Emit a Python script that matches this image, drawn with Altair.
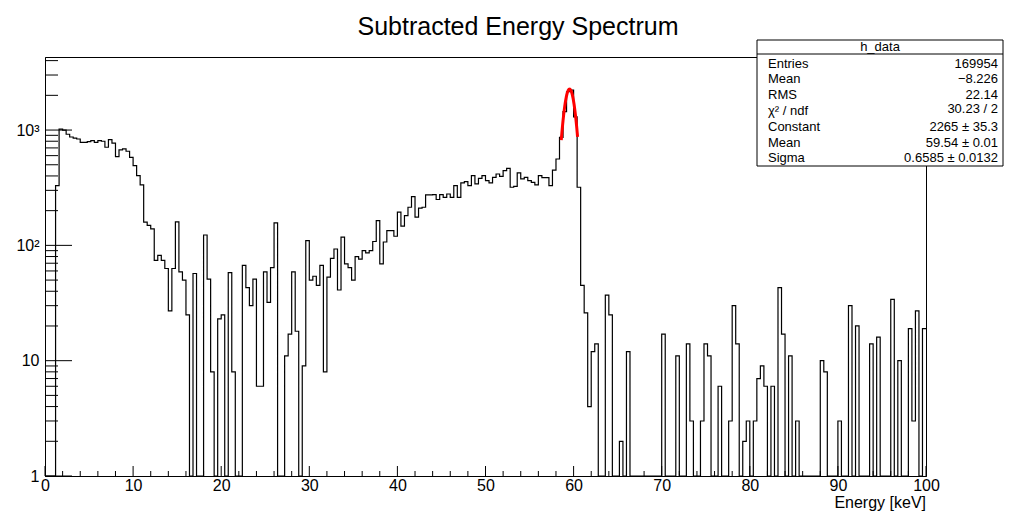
import altair as alt
import pandas as pd

# ---------------- data ----------------
TITLE = "Subtracted Energy Spectrum"
X_TITLE = "Energy [keV]"
E_MIN, E_MAX, N_BINS = 0.0, 100.0, 250

counts = [
    0, 0, 0, 330, 1020, 1000, 920, 870, 850, 836,
    783, 783, 795, 809, 783, 809, 800, 709, 825, 770,
    588, 672, 686, 655, 580, 491, 402, 335, 159, 149,
    139, 74, 82, 74, 63, 27, 63, 160, 59, 50,
    25, 0, 57, 0, 0, 123, 51, 8, 0, 23,
    25, 0, 58, 8, 0, 0, 67, 43, 30, 51,
    6, 6, 59, 32, 64, 157, 0, 0, 11, 17,
    59, 18, 0, 9, 110, 50, 54, 45, 67, 8,
    53, 77, 93, 41, 118, 69, 64, 50, 80, 76,
    90, 86, 90, 108, 164, 69, 107, 134, 134, 120,
    194, 147, 181, 214, 265, 176, 210, 214, 274, 274,
    275, 250, 275, 261, 279, 261, 330, 261, 348, 357,
    330, 403, 341, 381, 403, 364, 348, 389, 416, 397,
    445, 466, 319, 325, 425, 377, 389, 364, 352, 334,
    403, 386, 386, 330, 450, 561, 865, 1443, 2149, 2220,
    1300, 319, 45, 26, 4, 12, 14, 0, 0, 37,
    25, 0, 0, 2, 0, 12, 0, 0, 0, 0,
    0, 0, 0, 0, 0, 17, 0, 0, 0, 11,
    0, 0, 14, 3, 0, 0, 3, 14, 11, 0,
    0, 6, 0, 0, 3, 30, 14, 0, 2, 3,
    0, 3, 7, 9, 6, 0, 6, 0, 43, 17,
    0, 11, 0, 3, 0, 0, 0, 0, 0, 0,
    10, 8, 0, 0, 0, 3, 0, 0, 30, 0,
    20, 0, 0, 0, 14, 0, 16, 0, 0, 0,
    34, 0, 10, 0, 0, 19, 3, 27, 0, 19,
]

x_major_ticks = [0, 10, 20, 30, 40, 50, 60, 70, 80, 90, 100]
x_minor_ticks = [v for v in range(2, 100, 2) if v % 10 != 0]
y_major_ticks = [1, 10, 100, 1000]
y_minor_ticks = [m * d for d in (1, 10, 100, 1000) for m in range(2, 10) if m * d <= 4300]
Y_MAX = 4300

fit_constant, fit_mean, fit_sigma = 2265.0, 59.54, 0.6585
fit_lo, fit_hi = 58.6, 60.45

box_title = "h_data"
stat_labels = ["Entries", "Mean", "RMS", "\u03c7\u00b2 / ndf", "Constant", "Mean", "Sigma"]
stat_values = ["169954", "\u22128.226", "22.14", "30.23 / 2",
               "2265 \u00b1 35.3", "59.54 \u00b1 0.01", "0.6585 \u00b1 0.0132"]

# ---------------- build tables ----------------
bw = (E_MAX - E_MIN) / N_BINS
edges = [E_MIN + i * bw for i in range(N_BINS)] + [E_MAX]
vals = counts + [counts[-1]]
hist_df = pd.DataFrame({
    "idx": list(range(len(edges))),
    "E": edges,
    "N": [max(v, 1) for v in vals],
})

W, H = 881, 419
FONT = "Liberation Sans"

x_scale = alt.Scale(domain=[E_MIN, E_MAX], nice=False, zero=False)
y_scale = alt.Scale(type="log", domain=[1, Y_MAX], nice=False)

x_axis = alt.Axis(values=x_major_ticks, tickSize=0, labelPadding=1, labelFontSize=16,
                  labelFont=FONT, labelColor="black", domainColor="black", grid=False,
                  labelFlush=False, labelOverlap=False, title=None, format="d")
y_axis = alt.Axis(values=y_major_ticks, tickSize=0, labelPadding=6, labelFontSize=16,
                  labelFont=FONT, labelColor="black", domainColor="black", grid=False,
                  labelFlush=False, labelOverlap=False, title=None,
                  labelExpr="datum.value >= 1000 ? '10\u00b3' : datum.value >= 100 ? '10\u00b2' : datum.value >= 10 ? '10' : '1'")

hist = alt.Chart(hist_df).mark_line(interpolate="step-after", color="black", strokeWidth=1.2).encode(
    x=alt.X("E:Q", scale=x_scale, axis=x_axis),
    y=alt.Y("N:Q", scale=y_scale, axis=y_axis),
    order="idx:Q",
)

fit = alt.Chart(alt.sequence(fit_lo, fit_hi + 0.001, 0.0185, as_="E")).transform_calculate(
    N=f"{fit_constant} * exp(-0.5 * pow((datum.E - {fit_mean}) / {fit_sigma}, 2))"
).mark_line(color="#ff0000", strokeWidth=3).encode(
    x=alt.X("E:Q", scale=x_scale),
    y=alt.Y("N:Q", scale=y_scale),
)

xmaj = alt.Chart(pd.DataFrame({"v": x_major_ticks})).mark_rule(color="black", strokeWidth=1).encode(
    x=alt.X("v:Q", scale=x_scale), y=alt.value(H), y2=alt.value(H - 10))
xmin = alt.Chart(pd.DataFrame({"v": x_minor_ticks})).mark_rule(color="black", strokeWidth=1).encode(
    x=alt.X("v:Q", scale=x_scale), y=alt.value(H), y2=alt.value(H - 5))
ymaj = alt.Chart(pd.DataFrame({"v": y_major_ticks})).mark_rule(color="black", strokeWidth=1).encode(
    y=alt.Y("v:Q", scale=y_scale), x=alt.value(0), x2=alt.value(27))
ymin = alt.Chart(pd.DataFrame({"v": y_minor_ticks})).mark_rule(color="black", strokeWidth=1).encode(
    y=alt.Y("v:Q", scale=y_scale), x=alt.value(0), x2=alt.value(13))

one = pd.DataFrame({"a": [0]})

title = alt.Chart(pd.DataFrame({"t": [TITLE]})).mark_text(
    font=FONT, fontSize=25, color="black", align="center", baseline="middle").encode(
    text="t:N", x=alt.value(473), y=alt.value(-30))

xtitle = alt.Chart(pd.DataFrame({"t": [X_TITLE]})).mark_text(
    font=FONT, fontSize=16, color="black", align="right", baseline="alphabetic").encode(
    text="t:N", x=alt.value(W), y=alt.value(451))

# stats box
BX0, BX1, BY0, BY1 = 712, 958, -17, 109
box = alt.Chart(one).mark_rect(fill="white", stroke="black", strokeWidth=1).encode(
    x=alt.value(BX0), x2=alt.value(BX1), y=alt.value(BY0), y2=alt.value(BY1))
box_sep = alt.Chart(one).mark_rule(color="black", strokeWidth=1).encode(
    x=alt.value(BX0), x2=alt.value(BX1), y=alt.value(-3))
box_head = alt.Chart(pd.DataFrame({"t": [box_title]})).mark_text(
    font=FONT, fontSize=13, color="black", align="center", baseline="middle").encode(
    text="t:N", x=alt.value((BX0 + BX1) / 2), y=alt.value(-10))

stat_layers = []
for k, (lab, val) in enumerate(zip(stat_labels, stat_values)):
    yy = 6.5 + 15.8 * k
    stat_layers.append(alt.Chart(pd.DataFrame({"t": [lab]})).mark_text(
        font=FONT, fontSize=13, color="black", align="left", baseline="middle").encode(
        text="t:N", x=alt.value(BX0 + 11), y=alt.value(yy)))
    stat_layers.append(alt.Chart(pd.DataFrame({"t": [val]})).mark_text(
        font=FONT, fontSize=13, color="black", align="right", baseline="middle").encode(
        text="t:N", x=alt.value(BX1 - 5), y=alt.value(yy - (1.5 if k == 3 else 0))))

chart = alt.layer(
    ymin, ymaj, xmin, xmaj, hist, fit, box, box_sep, box_head, *stat_layers, title, xtitle
).properties(
    width=W, height=H,
    padding={"left": 37, "top": 49, "right": 79, "bottom": 35},
    autosize="none",
    background="white",
).configure_view(stroke="black", strokeWidth=1)

chart.save("out.html", embed_options={"renderer": "svg", "actions": False})
